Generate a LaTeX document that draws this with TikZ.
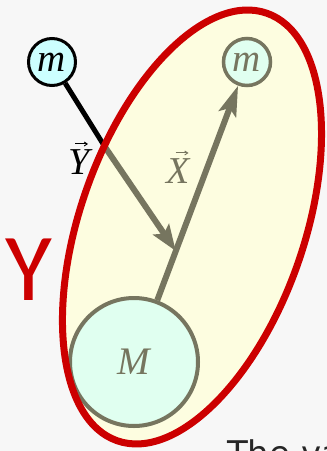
\documentclass[tikz,border=0pt]{standalone}
\usepackage{fontspec}
\setmainfont{Liberation Serif}
\newfontfamily\calib{Carlito}
\newfontfamily\djv{DejaVu Sans}
\usetikzlibrary{arrows.meta,calc}
\definecolor{bg}{HTML}{F7F7F7}
\definecolor{ellfill}{HTML}{FDFDE0}
\definecolor{redc}{HTML}{CC0000}
\definecolor{ghost}{HTML}{76755F}
\definecolor{cyanf}{HTML}{CCFFFF}
\definecolor{mintf}{HTML}{E0FFF0}
\begin{document}
\begin{tikzpicture}[x=1pt,y=-1pt,
  mass/.style={circle,inner sep=0pt,font=\fontsize{39}{44}\selectfont\itshape},
  ghostline/.style={ghost,line width=6pt},
  lbl/.style={font=\fontsize{38}{44}\selectfont\itshape,anchor=base,inner sep=0pt},
  vecarrow/.style={line width=0.9pt,-{Straight Barb[length=3pt,width=4pt]}}]
\useasboundingbox (0,0) rectangle (327,451);
\clip (0,0) rectangle (327,451);
\fill[bg] (0,0) rectangle (327,451);
\coordinate (E) at (192,227);
\fill[ellfill, rotate around={-19.3:(E)}] (E) ellipse [x radius=112pt, y radius=226.5pt];
\node[mass, draw=black, line width=3pt, fill=cyanf, minimum size=47pt] (m1) at (52,62) {m};
\node[mass, draw=ghost, line width=3.5pt, fill=mintf, minimum size=47pt, text=ghost] (m2) at (247,62) {m};
\node[mass, draw=ghost, line width=4pt, fill=mintf, minimum size=128pt, text=ghost] (M) at (134,362) {M};
\coordinate (cy) at (105,147);
\coordinate (tip) at ($(M.center)!0.37!(m2.center)$);
\draw[ghostline, -{Stealth[length=30pt,width=18pt,inset=6pt]}] (M) -- (m2);
\draw[ghostline, -{Stealth[length=26pt,width=19pt,inset=5pt]}] (cy) -- (tip);
\draw[black, line width=5pt] (m1) -- (cy);
\draw[redc, line width=7pt, rotate around={-19.3:(E)}] (E) ellipse [x radius=112pt, y radius=226.5pt];
\node[lbl] (ly) at (79,174) {Y};
\draw[vecarrow] ([xshift=-4pt,yshift=5pt]ly.north) -- ([xshift=9pt,yshift=5pt]ly.north);
\node[lbl, text=ghost] (lx) at (178.5,183) {X};
\draw[vecarrow, ghost] ([xshift=-3pt,yshift=5pt]lx.north) -- ([xshift=10pt,yshift=5pt]lx.north);
\node[lbl, text=redc, font=\calib\fontsize{96}{100}\selectfont] (bigY) at (28.5,300) {Y};
\node[font=\djv\fontsize{34}{40}\selectfont, anchor=base west, inner sep=0pt, text=black!85] (txt) at (227,465) {The va};
\end{tikzpicture}
\end{document}
